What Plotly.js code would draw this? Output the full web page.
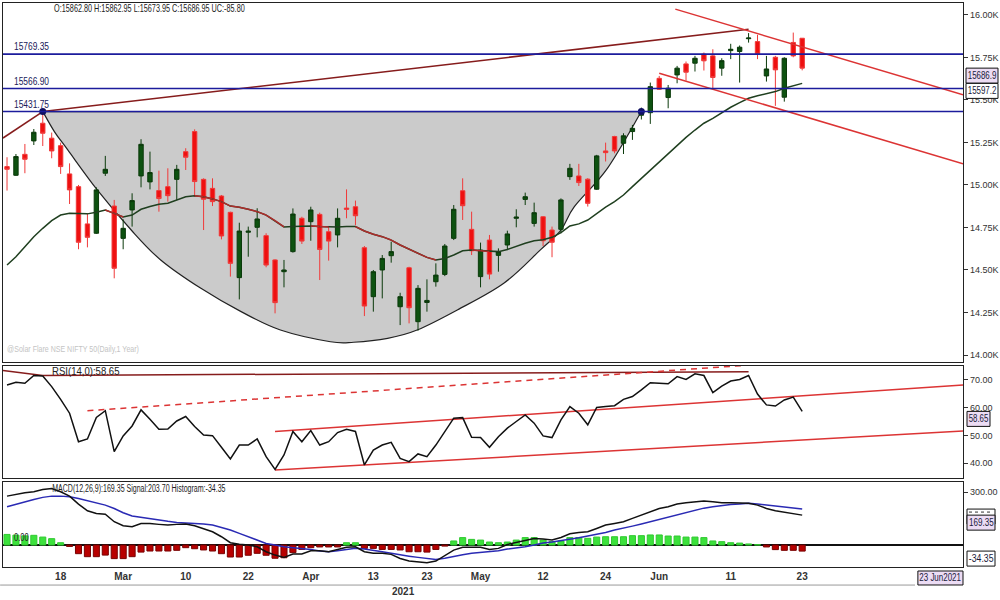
<!DOCTYPE html>
<html><head><meta charset="utf-8">
<script src="https://cdn.plot.ly/plotly-3.0.1.min.js"></script>
<style>html,body{margin:0;padding:0;background:#fff;}#chart{width:1000px;height:600px;}</style>
</head><body><div id="chart"></div>
<script>
const dates = ['2021-02-10','2021-02-11','2021-02-12','2021-02-15','2021-02-16','2021-02-17','2021-02-18','2021-02-19','2021-02-22','2021-02-23','2021-02-24','2021-02-25','2021-02-26',
'2021-03-01','2021-03-02','2021-03-03','2021-03-04','2021-03-05','2021-03-08','2021-03-09','2021-03-10','2021-03-12','2021-03-15','2021-03-16','2021-03-17','2021-03-18','2021-03-19','2021-03-22','2021-03-23','2021-03-24','2021-03-25','2021-03-26','2021-03-30','2021-03-31',
'2021-04-01','2021-04-05','2021-04-06','2021-04-07','2021-04-08','2021-04-09','2021-04-12','2021-04-13','2021-04-15','2021-04-16','2021-04-19','2021-04-20','2021-04-22','2021-04-23','2021-04-26','2021-04-27','2021-04-28','2021-04-29','2021-04-30',
'2021-05-03','2021-05-04','2021-05-05','2021-05-06','2021-05-07','2021-05-10','2021-05-11','2021-05-12','2021-05-14','2021-05-17','2021-05-18','2021-05-19','2021-05-20','2021-05-21','2021-05-24','2021-05-25','2021-05-26','2021-05-27','2021-05-28','2021-05-31',
'2021-06-01','2021-06-02','2021-06-03','2021-06-04','2021-06-07','2021-06-08','2021-06-09','2021-06-10','2021-06-11','2021-06-14','2021-06-15','2021-06-16','2021-06-17','2021-06-18','2021-06-21','2021-06-22','2021-06-23'];

const open  = [15108,15057,15180,15259,15363,15275,15231,15065,14990,14771, 14716,15069,14876,14686,14853,15053,15018,14967,14990,15033, 15196,15314,15033,14980,14935,14839,14455,14722,14751,14702, 14559,14490,14608,14804,14784,14827,14725,14706,14864,14872, 14631,14343,14500,14584,14284,14513,14196,14309,14431,14474, 14686,14966,14739,14461,14676,14586,14647,14804,14915,14774, 14813,14735,14739,15049,15053,15034,14975,15200,15285,15245, 15314,15410,15425,15627,15514,15647,15712,15716,15769,15759, 15687,15790,15785,15860,15843,15641,15751,15516,15838,15862.80];
const high  = [15163,15182,15241,15329,15431.75,15308,15249,15127,15000,14833, 14986,15171,14912,14798,14951,15269,15196,15084,15098,15118, 15216,15327,15039,15039,14941,14843,14778,14755,14863,14716, 14563,14559,14862,14813,14872,14837,14759,14862,14974,14908, 14641,14500,14588,14666,14366,14519,14411,14445,14539,14653, 14882,15039,14843,14661,14706,14627,14731,14857,14955,14896, 14817,14755,14921,15124,15124,15040,15177,15249,15289,15304, 15353,15455,15602,15641,15588,15700,15726,15759,15779,15798, 15745,15830,15820,15893,15883,15759,15759,15751,15896,15862.95];
const low   = [14967,15053,15069,15235,15229,15157,15065,14888,14622,14633, 14712,15053,14451,14622,14755,14986,14974,14843,14902,14912, 15088,14931,14735,14876,14680,14461,14327,14578,14692,14516, 14245,14398,14602,14653,14672,14441,14555,14633,14804,14764, 14229,14255,14333,14543,14176,14186,14143,14255,14402,14464, 14676,14794,14588,14398,14445,14490,14617,14751,14882,14755, 14641,14575,14716,15030,14994,14873,14971,15138,15186,15182, 15265,15385,15359,15559,15451,15598,15614,15667,15673,15569, 15642,15740,15602,15837,15740,15608,15465,15490,15751,15673.95];
const close = [15092,15167,15151,15310,15304,15200,15108,14971,14663,14692, 14971,15092,14510,14745,14908,15239,15073,14920,14937,15092, 15163,15020,14916,14902,14700,14539,14729,14728,14800,14529, 14308,14500,14829,14670,14853,14621,14670,14804,14857,14819, 14288,14490,14568,14608,14343,14278,14392,14321,14470,14641, 14857,14878,14613,14617,14476,14608,14712,14811,14931,14837, 14672,14663,14912,15098,15014,14892,15171,15190,15200,15289, 15333,15428,15578,15563,15569,15687,15663,15745,15730,15632, 15731,15798,15810,15864,15769,15682,15677,15745,15759,15686.95];
const sma   = [14529,14578,14637,14696,14745,14790,14823,14833,14832,14830, 14840,14853,14833,14812,14823,14857,14873,14886,14892,14912, 14931,14937,14931,14918,14902,14876,14869,14857,14843,14823, 14790,14753,14755,14758,14759,14756,14753,14753,14755,14755, 14729,14710,14696,14676,14647,14623,14598,14574,14559,14568, 14588,14613,14617,14613,14608,14608,14621,14641,14657,14672, 14678,14692,14720,14759,14771,14794,14833,14869,14902,14941, 14990,15039,15088,15137,15186,15235,15280,15323,15363,15392, 15425,15457,15484,15510,15524,15535,15549,15569,15582,15597.2];
const rsi   = [68.2,69.2,68.8,71.6,71.4,67.6,63.0,58.0,47.7,48.7, 56.5,58.9,44.1,49.8,53.4,59.2,55.8,52.2,52.3,55.2, 56.8,53.2,50.1,49.9,45.7,41.5,46.5,46.5,48.7,42.3, 37.7,42.9,51.4,47.7,51.7,46.5,47.7,51.0,52.2,51.4, 39.3,44.7,46.5,47.5,41.7,40.5,43.3,42.3,46.5,51.4, 56.2,56.4,49.3,49.2,45.7,49.5,52.6,55.0,57.4,54.4, 49.8,49.2,55.6,60.4,58.0,53.8,60.1,60.4,60.7,63.0, 64.0,66.4,69.0,68.8,68.6,71.2,70.2,72.2,71.6,65.4, 67.8,69.6,70.2,71.6,64.9,61.0,60.6,62.8,63.8,58.65];
const macd  = [277,288,296,302,315,320,302,277,232,194, 179,175,132,109,104,122,122,117,113,117, 119,109,94,75,47,13,4,0,-10,-38, -57,-70,-51,-51,-32,-32,-38,-25,-13,-10, -38,-47,-47,-53,-76,-91,-95,-100,-91,-61, -29,-13,-13,-13,-25,-19,3,15,28,37, 34,28,43,64,71,75,94,113,122,132, 151,170,185,207,217,232,239,245,249,245, 239,239,236,236,226,207,194,185,179,169.35];
const signal= [217,232,245,258,270,277,277,273,264,251, 239,226,207,183,164,156,147,141,134,128, 126,122,119,113,100,85,66,47,28,9, 0,-10,-15,-19,-25,-34,-38,-32,-25,-19, -23,-29,-38,-47,-53,-63,-70,-76,-82,-75, -64,-55,-47,-42,-38,-33,-23,-17,-10,0, 11,17,24,32,41,51,60,71,85,94, 107,119,132,145,160,173,187,198,209,217, 224,230,232,236,232,226,221,217,211,203.70];
const hist  = [60,56,52,55,45,36,13,-8,-49,-66, -66,-57,-77,-77,-66,-40,-34,-34,-34,-30, -15,-21,-28,-34,-49,-68,-68,-58,-47,-58, -75,-72,-43,-25,-15,-11,-11,-11,13,13, -19,-19,-25,-25,-28,-38,-38,-40,-25,-6, 23,42,32,28,17,13,17,28,42,42, 28,19,23,42,42,38,45,47,47,47, 53,53,57,57,51,51,45,45,42,23, 19,13,11,6,2,-11,-26,-30,-30,-34.35];

const tickDates  = ['2021-02-18','2021-03-01','2021-03-10','2021-03-22','2021-04-01','2021-04-13','2021-04-23','2021-05-03','2021-05-12','2021-05-24','2021-06-01','2021-06-11','2021-06-23'];
const tickLabels = ['18','Mar','10','22','Apr','13','23','May','12','24','Jun','11','23'];
const priceTicks = [14000,14250,14500,14750,15000,15250,15500,15750,16000];
const priceTickText = ['14.00K','14.25K','14.50K','14.75K','15.00K','15.25K','15.50K','15.75K','16.00K'];
const rsiTicks = [40,50,60,70];
const rsiTickText = ['40.00','50.00','60.00','70.00'];
const macdTicks = [300];
const macdTickText = ['300.00'];

const levels = [15769.35, 15566.90, 15431.75];
const levelText = ['15769.35','15566.90','15431.75'];

// cup (rounding bottom) outline, in bar-index / price units
const cupX = [4,5.3,6.8,10.1,13.9,17.2,21.7,26.2,30.6,36.2,38.8,42.6,45.9,50.4,55.6,59.7,62,63.5,67.2,71];
const cupY = [15431.75,15314,15206,14971,14735,14559,14392,14255,14147,14078,14075,14098,14147,14265,14422,14618,14735,14872,15098,15431.75];
const pivotX = [4,71];
const pivotY = [15431.75,15431.75];

// trend lines (bar index, value)
const trendLeftX = [-0.45,4],   trendLeftY = [15276,15431.75];
const trendTopX  = [4,83],      trendTopY  = [15431.75,15915];
const chanUpX    = [74.8,107],  chanUpY    = [16034,15530];
const chanLowX   = [73,107],    chanLowY   = [15657,15124];
const rsiLeftX   = [-0.45,4],   rsiLeftY   = [73.4,71.6];
const rsiTopX    = [4,83],      rsiTopY    = [71.6,73.0];
const rsiDashX   = [9,85],      rsiDashY   = [58.9,75.8];
const rsiUpX     = [30,107],    rsiUpY     = [51.4,68.2];
const rsiLowX    = [30,107],    rsiLowY    = [37.5,51.6];

const idx = dates.map((d,i)=>i);
const F = '"Liberation Sans",Arial,sans-serif';
const MAROON = '#861c1c', RED = '#dc3434', NAVY = '#1c1c9c';

// falling segments of the moving average drawn in red
const fx = [], fy = [];
for (let k=0;k<sma.length-1;k++){
  if (sma[k+1] < sma[k]-2){ fx.push(idx[k],idx[k+1],null); fy.push(sma[k],sma[k+1],null); }
}

// smooth closed path for the cup (Catmull-Rom -> cubic Bezier), drawn as a background shape
function cupPath(xs, ys){
  const n = xs.length; const g = i => [xs[Math.max(0,Math.min(n-1,i))], ys[Math.max(0,Math.min(n-1,i))]];
  let d = 'M'+xs[0]+','+ys[0];
  for (let i=0;i<n-1;i++){
    const p0=g(i-1),p1=g(i),p2=g(i+1),p3=g(i+2);
    const c1=[p1[0]+(p2[0]-p0[0])/6, p1[1]+(p2[1]-p0[1])/6];
    const c2=[p2[0]-(p3[0]-p1[0])/6, p2[1]-(p3[1]-p1[1])/6];
    d += ' C'+c1[0]+','+c1[1]+' '+c2[0]+','+c2[1]+' '+p2[0]+','+p2[1];
  }
  return d+' Z';
}

function line(x,y,color,ax,dash,w){
  return {type:'scatter',mode:'lines',x:x,y:y,xaxis:ax[0],yaxis:ax[1],line:{color:color,width:w||1.5,dash:dash||'solid'},hoverinfo:'skip',showlegend:false};
}
const P=['x','y'], R=['x2','y2'], M=['x3','y3'];

const traces = [
  {type:'candlestick',x:idx,open:open,high:high,low:low,close:close,xaxis:'x',yaxis:'y',
   increasing:{line:{color:'#0b3a0b',width:1},fillcolor:'#0d5210'},
   decreasing:{line:{color:'#f03a3a',width:1},fillcolor:'#ee1010'},
   whiskerwidth:0,hoverinfo:'skip',showlegend:false},
  line(trendLeftX,trendLeftY,MAROON,P),
  line(trendTopX,trendTopY,MAROON,P),
  line(idx,sma,'#1f3f1f',P),
  line(fx,fy,'#b02c2c',P),
  line(chanUpX,chanUpY,RED,P),
  line(chanLowX,chanLowY,RED,P),
  {type:'scatter',mode:'markers',x:pivotX,y:pivotY,xaxis:'x',yaxis:'y',marker:{color:'#101060',size:7},hoverinfo:'skip',showlegend:false},
  // RSI
  line(rsiLeftX,rsiLeftY,MAROON,R),
  line(rsiTopX,rsiTopY,MAROON,R),
  line(rsiDashX,rsiDashY,RED,R,'6px,5px'),
  line(rsiUpX,rsiUpY,RED,R),
  line(rsiLowX,rsiLowY,RED,R),
  line(idx,rsi,'#111',R),
  // MACD
  {type:'bar',x:idx,y:hist,xaxis:'x3',yaxis:'y3',width:0.68,
   marker:{color:hist.map(v=>v>=0?'#3ce23c':'#b80000'),line:{color:hist.map(v=>v>=0?'#30c830':'#780000'),width:1}},
   hoverinfo:'skip',showlegend:false},
  line(idx,signal,'#2a2ab4',M),
  line(idx,macd,'#111',M)
];

const xBase = {range:[-0.45,107],showline:true,mirror:true,linecolor:'#222',linewidth:1.3,showgrid:false,zeroline:false,ticks:'',fixedrange:true};
const yBase = {side:'right',showline:true,mirror:true,linecolor:'#222',linewidth:1.3,showgrid:false,zeroline:false,ticks:'outside',ticklen:4,tickcolor:'#333',tickfont:{family:F,size:9,color:'#333'},fixedrange:true};

const shapes = [{type:'path',xref:'x',yref:'y',path:cupPath(cupX,cupY),fillcolor:'#cbcbcb',line:{color:'#222',width:1.2},layer:'below'}];
levels.forEach(v=>shapes.push({type:'line',xref:'paper',x0:0,x1:1,yref:'y',y0:v,y1:v,line:{color:NAVY,width:1.6},layer:'above'}));
shapes.push({type:'line',xref:'paper',x0:-0.003,x1:0.95,yref:'paper',y0:-0.032,y1:-0.032,line:{color:'#999',width:1}});

// annotations + per-annotation horizontal text fitting (target widths in px, origin)
const ann = [], fit = [];
function plain(txt,x,yref,y,yanchor,size,color,target){
  ann.push({xref:'paper',x:x,xanchor:'left',yref:yref,y:y,yanchor:yanchor,showarrow:false,text:txt,font:{family:F,size:size,color:color}});
  fit.push(target ? {w:target,o:'0% 50%'} : null);
}
function tagBox(yref,y,bg,off,w){
  shapes.push({type:'rect',xref:'paper',xsizemode:'pixel',xanchor:1,x0:off,x1:off+w,
    yref:yref,ysizemode:'pixel',yanchor:y,y0:0,y1:-15,fillcolor:bg,line:{color:'#111',width:1},layer:'above'});
}
// value tag on the right: pixel-sized box anchored at the value, text centred in it
function tag(txt,yref,y,bg,off,w){
  tagBox(yref,y,bg,off,w);
  ann.push({xref:'paper',x:1,xshift:off+w/2,xanchor:'center',yref:yref,y:y,yshift:-7.5,yanchor:'middle',text:txt,showarrow:false,
    font:{family:F,size:10,color:'#1a1a3a'}});
  fit.push({w:w-3,o:'50% 50%'});
}
plain('O:15862.80 H:15862.95 L:15673.95 C:15686.95 UC:-85.80',0.051,'paper',0.991,'middle',10,'#222',191);
levels.forEach((v,i)=>plain(levelText[i],0.0094,'y',v,'bottom',11,'#20205a',35));
plain('@Solar Flare NSE NIFTY 50(Daily,1 Year)',0.002,'paper',0.3865,'middle',9,'#c4c4c4',132);
plain('RSI(14,0):58.65',0.049,'paper',0.3475,'middle',10,'#222',68);
plain('MACD(12,26,9):169.35 Signal:203.70 Histogram:-34.35',0.049,'paper',0.140,'middle',10,'#222',174);
plain('0.00',0.0094,'y3',0,'bottom',10,'#222',15);
tag('15686.9','y',close[close.length-1],'#ecdcf4',3,32);
tag('15597.2','y',sma[sma.length-1],'#ffffff',3,32);
tag('58.65','y2',rsi[rsi.length-1],'#ecdcf4',4,23);
// signal tag is mostly hidden behind the MACD tag: only its top edge shows
tagBox('y3',signal[signal.length-1],'#ffffff',4,28);
shapes.push({type:'line',xref:'paper',xsizemode:'pixel',xanchor:1,x0:6,x1:30,yref:'y3',ysizemode:'pixel',yanchor:signal[signal.length-1],y0:-3,y1:-3,
  line:{color:'#333',width:1,dash:'dot'},layer:'above'});
tag('169.35','y3',macd[macd.length-1],'#ecdcf4',4,28);
tag('-34.35','y3',hist[hist.length-1],'#ffffff',4,28);
shapes.push({type:'rect',xref:'paper',x0:0.953,x1:1,yref:'paper',y0:-0.0071,y1:-0.0319,fillcolor:'#ecdcf4',line:{color:'#111',width:1},layer:'above'});
ann.push({xref:'paper',x:0.9766,xanchor:'center',yref:'paper',y:-0.0195,yanchor:'middle',showarrow:false,text:'23 Jun2021',
  font:{family:F,size:10,color:'#1a1a3a'}});
fit.push({w:42,o:'50% 50%'});
ann.push({xref:'paper',x:0.4167,xanchor:'center',yref:'paper',y:-0.0426,yanchor:'middle',showarrow:false,text:'<b>2021</b>',
  font:{family:F,size:10,color:'#333'}});
fit.push(null);

const layout = {
  width:1000,height:600,margin:{l:3,r:37,t:3,b:33},paper_bgcolor:'#fff',plot_bgcolor:'#fff',showlegend:false,
  xaxis:Object.assign({},xBase,{anchor:'y',domain:[0,1],showticklabels:false,rangeslider:{visible:false}}),
  xaxis2:Object.assign({},xBase,{anchor:'y2',matches:'x',showticklabels:false}),
  xaxis3:Object.assign({},xBase,{anchor:'y3',matches:'x',showticklabels:true,
    tickmode:'array',tickvals:tickDates.map(d=>dates.indexOf(d)),ticktext:tickLabels,
    tickfont:{family:F,size:10,color:'#333',weight:'bold'}}),
  yaxis:Object.assign({},yBase,{anchor:'x',domain:[0.3635,1],range:[13959,16070],tickmode:'array',tickvals:priceTicks,ticktext:priceTickText}),
  yaxis2:Object.assign({},yBase,{anchor:'x2',domain:[0.1578,0.3564],range:[34.6,75.05],tickmode:'array',tickvals:rsiTicks,ticktext:rsiTickText}),
  yaxis3:Object.assign({},yBase,{anchor:'x3',domain:[0,0.1507],range:[-124.5,357],tickmode:'array',tickvals:macdTicks,ticktext:macdTickText,
    zeroline:true,zerolinecolor:'#111',zerolinewidth:1.5}),
  annotations:ann,shapes:shapes,boxgap:0.3
};

function fitTexts(){
  fit.forEach((f,i)=>{
    if(!f) return;
    const t = document.querySelector('g.annotation[data-index="'+i+'"] text.annotation-text');
    if(!t) return;
    const w = t.getBBox().width;
    if(!(w>0)) return;
    t.style.transformBox='fill-box';
    t.style.transformOrigin=f.o;
    t.style.transform='scaleX('+Math.min(1,f.w/w).toFixed(3)+')';
  });
}
Plotly.newPlot('chart',traces,layout,{displayModeBar:false,staticPlot:true});
fitTexts();
</script></body></html>
